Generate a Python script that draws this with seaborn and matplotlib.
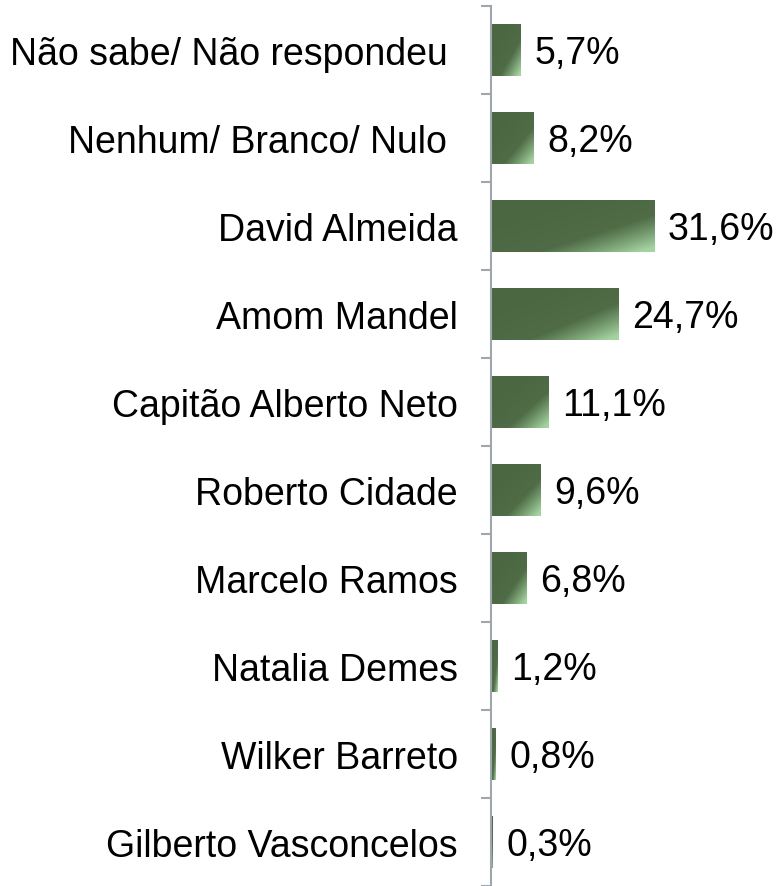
import matplotlib
matplotlib.use("Agg")
import matplotlib.pyplot as plt
import numpy as np
import pandas as pd
import seaborn as sns
from matplotlib.colors import LinearSegmentedColormap

candidates = [
    "Não sabe/ Não respondeu ",
    "Nenhum/ Branco/ Nulo ",
    "David Almeida",
    "Amom Mandel",
    "Capitão Alberto Neto",
    "Roberto Cidade",
    "Marcelo Ramos",
    "Natalia Demes",
    "Wilker Barreto",
    "Gilberto Vasconcelos",
]
percent = [5.7, 8.2, 31.6, 24.7, 11.1, 9.6, 6.8, 1.2, 0.8, 0.3]

df = pd.DataFrame({"candidato": candidates, "pct": percent})

sns.set_style("white")
plt.rcParams["font.family"] = ["Liberation Sans", "DejaVu Sans"]

W, H = 780, 887
fig = plt.figure(figsize=(W / 100, H / 100), dpi=100)
ax = fig.add_axes([491 / W, 0.0, 1 - 491 / W, 1 - 7 / H])

sns.barplot(data=df, x="pct", y="candidato", orient="h", width=0.6,
            color="#4A6741", ax=ax)

n = len(candidates)

# diagonal gradient fill on each bar: dark top-left, light bottom-right
cmap = LinearSegmentedColormap.from_list(
    "g", [(0, "#4A6741"), (0.5, "#4F6C46"), (1.0, "#A3D3A0")])
gx, gy = np.meshgrid(np.linspace(0, 1, 64), np.linspace(0, 1, 64))
grad = np.clip((gx * 0.6 + gy * 0.6 - 0.15), 0, 1) ** 1.5
for p in ax.patches:
    x0, y0 = p.get_x(), p.get_y()
    w, h = p.get_width(), p.get_height()
    p.set_facecolor("none")
    p.set_edgecolor("none")
    im = ax.imshow(grad, cmap=cmap, vmin=0, vmax=1, aspect="auto",
                   extent=[x0, x0 + w, y0, y0 + h], origin="lower",
                   interpolation="bilinear", zorder=2)
    im.set_clip_path(p)
ax.set_xlim(0, 56)
ax.set_ylim(n - 0.5, -0.5)

for i, v in enumerate(percent):
    ax.annotate(f"{v:.1f}".replace(".", ",") + "%", xy=(v, i),
                xytext=(10, -2), textcoords="offset points",
                ha="left", va="center", fontsize=27, color="black")

for s in ["top", "right", "bottom"]:
    ax.spines[s].set_visible(False)
ax.spines["left"].set_color("#A0A6AE")
ax.spines["left"].set_linewidth(1.5)

ax.set_xticks([])
ax.set_xlabel("")
ax.set_ylabel("")
ax.set_yticks(range(n))
ax.set_yticklabels(candidates, fontsize=27, color="black")
ax.tick_params(axis="y", which="major", left=True, length=0, pad=24)
ax.set_yticks(np.arange(-0.5, n, 1.0), minor=True)
ax.tick_params(axis="y", which="minor", left=True, length=7, width=1.5,
               color="#A0A6AE", direction="out")

fig.savefig("out.png", dpi=100)
